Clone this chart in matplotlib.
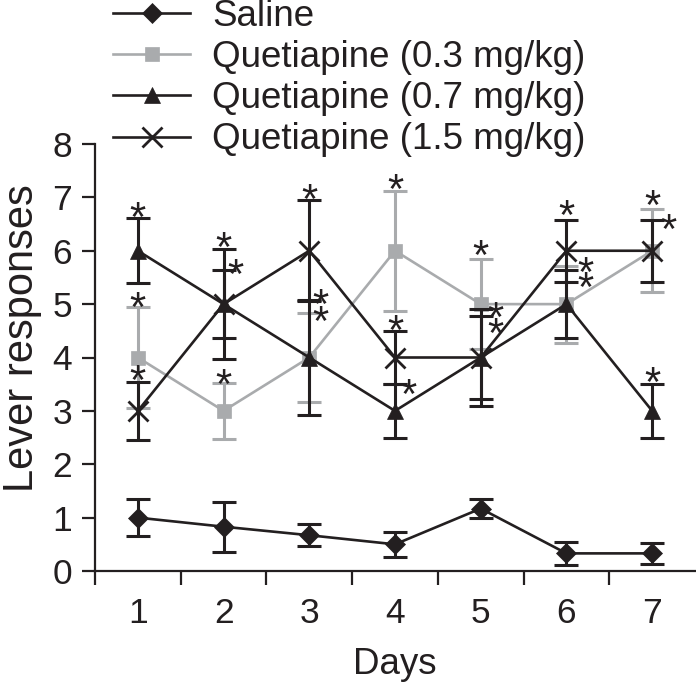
import matplotlib
matplotlib.use('Agg')
import matplotlib.pyplot as plt

plt.rcParams['font.family'] = ['Liberation Sans', 'DejaVu Sans']

# datos
days = [1, 2, 3, 4, 5, 6, 7]
saline = [1.0, 0.83, 0.67, 0.5, 1.17, 0.33, 0.33]
saline_err = [0.35, 0.47, 0.21, 0.23, 0.17, 0.21, 0.2]
q03 = [4, 3, 4, 6, 5, 5, 6]
q03_err = [0.95, 0.52, 0.84, 1.12, 0.84, 0.72, 0.78]
q07 = [6, 5, 4, 3, 4, 5, 3]
q07_err = [0.61, 1.03, 1.08, 0.5, 0.9, 0.63, 0.5]
q15 = [3, 5, 6, 4, 4, 6, 6]
q15_err = [0.55, 0.64, 0.95, 0.5, 0.78, 0.58, 0.58]

labels = ['Saline', 'Quetiapine (0.3 mg/kg)', 'Quetiapine (0.7 mg/kg)',
          'Quetiapine (1.5 mg/kg)']

# asteriscos de significancia (dia, valor)
star_x = [1, 1, 1, 2, 2.14, 2, 3, 3.13, 3.13, 4, 4, 4.16,
          5, 5.17, 5.17, 6, 6.22, 6.22, 7, 7.19, 7]
star_y = [6.76, 5.07, 3.7, 6.2, 5.7, 3.64, 7.1, 5.14, 4.82, 7.29, 4.64, 3.45,
          6.04, 4.89, 4.58, 6.79, 5.73, 5.45, 6.98, 6.54, 3.67]

black = '#231f20'
gray = '#a9abad'
fs = 25.5

fig = plt.figure(figsize=(6.96, 6.94), dpi=100)
ax = fig.add_axes([95 / 696, 1 - 571 / 694, 600 / 696, 427 / 694])

series = [
    (q03, q03_err, gray, 's', 10, 1),
    (saline, saline_err, black, 'D', 10, 2),
    (q07, q07_err, black, '^', 12, 3),
    (q15, q15_err, black, 'x', 15, 4),
]
order = [1, 0, 2, 3]
handles = {}
for i, (vals, err, col, mk, ms, z) in enumerate(series):
    ax.errorbar(days, vals, yerr=err, fmt='none', ecolor=col, elinewidth=2.2,
                capsize=8.5, capthick=2.2, zorder=z)
    ln, = ax.plot(days, vals, color=col, lw=1.9, marker=mk, markersize=ms,
                  markeredgewidth=2 if mk == 'x' else 0.5, markeredgecolor=col,
                  markerfacecolor=col, zorder=z + 0.5)
    handles[i] = ln

for sx, sy in zip(star_x, star_y):
    ax.annotate('*', (sx, sy), xytext=(0, -15), textcoords='offset points',
                ha='center', va='baseline', fontsize=30, color=black, zorder=6)

ax.set_xlim(0.5, 7.5)
ax.set_ylim(0, 8)
for s in ['top', 'right']:
    ax.spines[s].set_visible(False)
for s in ['left', 'bottom']:
    ax.spines[s].set_linewidth(1.6)
    ax.spines[s].set_color(black)

ax.set_xticks([0.5, 1.5, 2.5, 3.5, 4.5, 5.5, 6.5])
ax.set_xticklabels([])
ax.set_xticks(days, minor=True)
ax.set_xticklabels([str(d) for d in days], minor=True)
ax.tick_params(axis='x', which='major', direction='out', length=10, width=1.6,
               color=black)
ax.tick_params(axis='x', which='minor', length=0, pad=19, labelsize=fs,
               labelcolor=black)
ax.set_yticks(range(0, 9))
ax.tick_params(axis='y', direction='out', length=9.5, width=1.6, color=black,
               pad=7, labelsize=fs, labelcolor=black)

fig.text(22 / 696, 1 - 338 / 694, 'Lever responses', rotation=90,
         ha='center', va='center', fontsize=30, color=black)
fig.text(395 / 696, 1 - 665 / 694, 'Days', ha='center', va='center',
         fontsize=26.5, color=black)

fig.legend([handles[i] for i in order], labels, loc='upper left',
           bbox_to_anchor=(113 / 696, 1.002), frameon=False, fontsize=26.5,
           borderpad=0, borderaxespad=0, handlelength=2.1, handletextpad=0.6,
           labelspacing=0.17, labelcolor=black)

fig.savefig('out.png', dpi=100)
